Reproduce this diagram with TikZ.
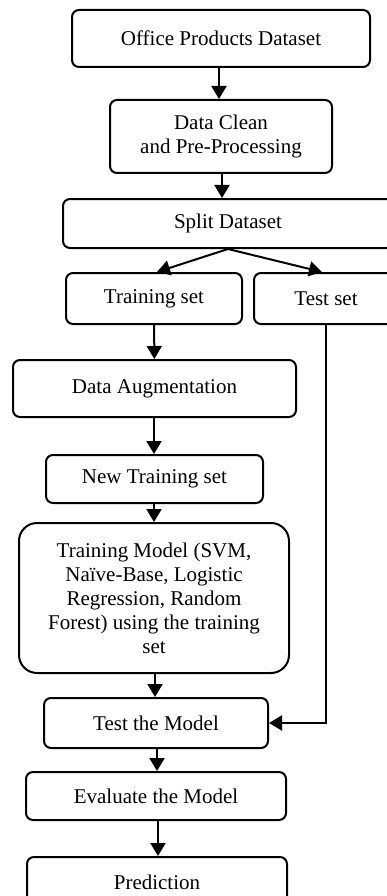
\documentclass[tikz,border=0pt]{standalone}
\usepackage{fontspec}
\setmainfont{Liberation Serif}
\usetikzlibrary{arrows.meta}
\begin{document}
\begin{tikzpicture}[x=1pt,y=-1pt,
  box/.style={draw, line width=2pt, rounded corners=7pt, align=center,
    inner sep=0pt, font=\fontsize{21}{24}\selectfont},
  flow/.style={line width=2pt, -{Triangle[length=13pt,width=15pt]}}]
\useasboundingbox (0,0) rectangle (387,896);
\clip (0,0) rectangle (387,896);
% process steps
\node[box, minimum width=298pt, minimum height=57pt] (office) at (221,38.5) {Office Products Dataset};
\node[box, minimum width=222pt, minimum height=73pt] (clean) at (221,136.5) {Data Clean\\and Pre-Processing};
\node[box, minimum width=330pt, minimum height=49pt] (split) at (228,223.5) {Split Dataset};
\node[box, minimum width=176pt, minimum height=51pt] (train) at (154,298.5) {Training set};
\node[box, minimum width=144pt, minimum height=51pt] (test) at (326,298.5) {Test set};
\node[box, minimum width=283pt, minimum height=57pt] (aug) at (154.5,388.5) {Data Augmentation};
\node[box, minimum width=217pt, minimum height=48pt] (newtrain) at (154.5,479) {New Training set};
\node[box, rounded corners=18pt, minimum width=270pt, minimum height=150pt] (model) at (154,598)
  {Training Model (SVM,\\Naïve-Base, Logistic\\Regression, Random\\Forest) using the training\\set};
\node[box, minimum width=224pt, minimum height=50pt] (testm) at (156,723) {Test the Model};
\node[box, minimum width=260pt, minimum height=48pt] (eval) at (156,796) {Evaluate the Model};
\node[box, minimum width=260pt, minimum height=50pt] (pred) at (157,882) {Prediction};
% connectors
\draw[flow] (office.south -| 219,0) -- (clean.north -| 219,0);
\draw[flow] (222,0 |- clean.south) -- (222,0 |- split.north);
\draw[flow] (split.south) -- ([xshift=3pt]train.north);
\draw[flow] (split.south) -- ([xshift=-4pt]test.north);
\draw[flow] (train) -- (aug);
\draw[flow] (154,0 |- aug.south) -- (154,0 |- newtrain.north);
\draw[flow] (154,0 |- newtrain.south) -- (154,0 |- model.north);
\draw[flow] (155,0 |- model.south) -- (155,0 |- testm.north);
\draw[flow] (157,0 |- testm.south) -- (157,0 |- eval.north);
\draw[flow] (158,0 |- eval.south) -- (158,0 |- pred.north);
\draw[flow] (test.south) |- (testm.east);
\end{tikzpicture}
\end{document}
